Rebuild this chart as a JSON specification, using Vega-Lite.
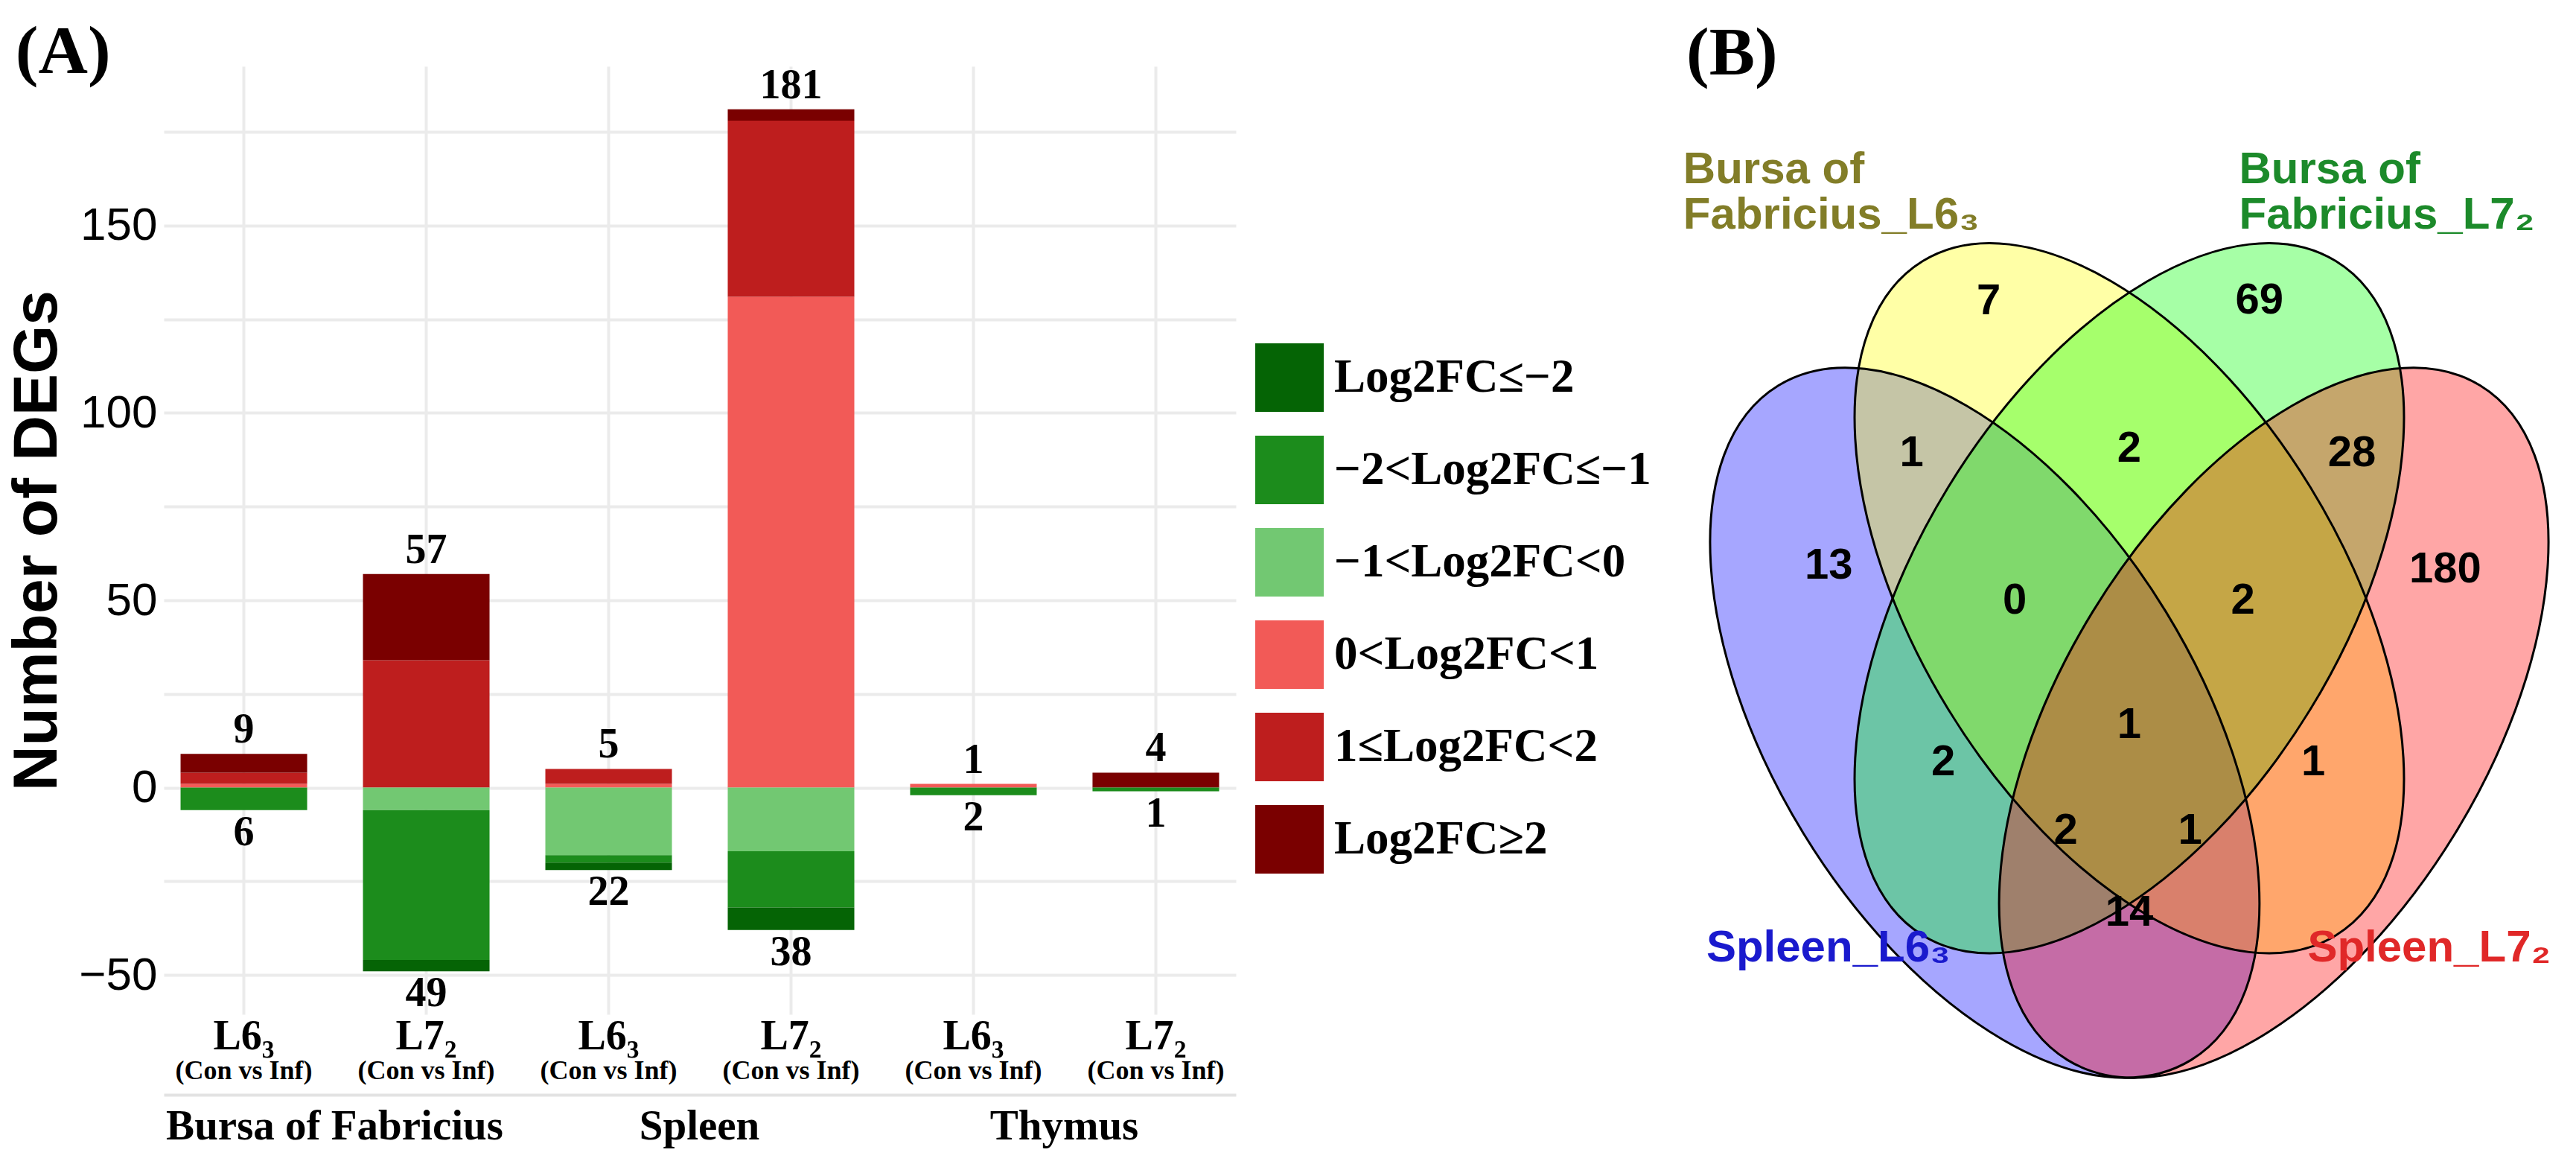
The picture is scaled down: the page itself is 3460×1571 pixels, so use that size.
{
  "$schema": "https://vega.github.io/schema/vega-lite/v6.json",
  "background": "white",
  "padding": {"left": 8, "top": 23, "right": 5, "bottom": 5},
  "spacing": 42,
  "config": {"view": {"stroke": null}, "axis": {"labelAngle": 0}},
  "resolve": {"scale": {"color": "independent", "fill": "independent"}, "legend": {"color": "independent", "fill": "independent"}},
  "datasets": {
    "bars": [
      {"tissue": "Bursa of Fabricius", "cond": "Bursa of Fabricius|L6₃", "cat": "0<Log2FC<1", "lvl": 1, "value": 1},
      {"tissue": "Bursa of Fabricius", "cond": "Bursa of Fabricius|L6₃", "cat": "1≤Log2FC<2", "lvl": 2, "value": 3},
      {"tissue": "Bursa of Fabricius", "cond": "Bursa of Fabricius|L6₃", "cat": "Log2FC≥2", "lvl": 3, "value": 5},
      {"tissue": "Bursa of Fabricius", "cond": "Bursa of Fabricius|L6₃", "cat": "−2<Log2FC≤−1", "lvl": 2, "value": -6},
      {"tissue": "Bursa of Fabricius", "cond": "Bursa of Fabricius|L7₂", "cat": "1≤Log2FC<2", "lvl": 2, "value": 34},
      {"tissue": "Bursa of Fabricius", "cond": "Bursa of Fabricius|L7₂", "cat": "Log2FC≥2", "lvl": 3, "value": 23},
      {"tissue": "Bursa of Fabricius", "cond": "Bursa of Fabricius|L7₂", "cat": "−1<Log2FC<0", "lvl": 1, "value": -6},
      {"tissue": "Bursa of Fabricius", "cond": "Bursa of Fabricius|L7₂", "cat": "−2<Log2FC≤−1", "lvl": 2, "value": -40},
      {"tissue": "Bursa of Fabricius", "cond": "Bursa of Fabricius|L7₂", "cat": "Log2FC≤−2", "lvl": 3, "value": -3},
      {"tissue": "Spleen", "cond": "Spleen|L6₃", "cat": "0<Log2FC<1", "lvl": 1, "value": 1},
      {"tissue": "Spleen", "cond": "Spleen|L6₃", "cat": "1≤Log2FC<2", "lvl": 2, "value": 4},
      {"tissue": "Spleen", "cond": "Spleen|L6₃", "cat": "−1<Log2FC<0", "lvl": 1, "value": -18},
      {"tissue": "Spleen", "cond": "Spleen|L6₃", "cat": "−2<Log2FC≤−1", "lvl": 2, "value": -2},
      {"tissue": "Spleen", "cond": "Spleen|L6₃", "cat": "Log2FC≤−2", "lvl": 3, "value": -2},
      {"tissue": "Spleen", "cond": "Spleen|L7₂", "cat": "0<Log2FC<1", "lvl": 1, "value": 131},
      {"tissue": "Spleen", "cond": "Spleen|L7₂", "cat": "1≤Log2FC<2", "lvl": 2, "value": 47},
      {"tissue": "Spleen", "cond": "Spleen|L7₂", "cat": "Log2FC≥2", "lvl": 3, "value": 3},
      {"tissue": "Spleen", "cond": "Spleen|L7₂", "cat": "−1<Log2FC<0", "lvl": 1, "value": -17},
      {"tissue": "Spleen", "cond": "Spleen|L7₂", "cat": "−2<Log2FC≤−1", "lvl": 2, "value": -15},
      {"tissue": "Spleen", "cond": "Spleen|L7₂", "cat": "Log2FC≤−2", "lvl": 3, "value": -6},
      {"tissue": "Thymus", "cond": "Thymus|L6₃", "cat": "0<Log2FC<1", "lvl": 1, "value": 1},
      {"tissue": "Thymus", "cond": "Thymus|L6₃", "cat": "−2<Log2FC≤−1", "lvl": 2, "value": -2},
      {"tissue": "Thymus", "cond": "Thymus|L7₂", "cat": "Log2FC≥2", "lvl": 3, "value": 4},
      {"tissue": "Thymus", "cond": "Thymus|L7₂", "cat": "−2<Log2FC≤−1", "lvl": 2, "value": -1}
    ],
    "totals": [
      {"cond": "Bursa of Fabricius|L6₃", "total": 9, "n": "9"},
      {"cond": "Bursa of Fabricius|L6₃", "total": -6, "n": "6"},
      {"cond": "Bursa of Fabricius|L7₂", "total": 57, "n": "57"},
      {"cond": "Bursa of Fabricius|L7₂", "total": -49, "n": "49"},
      {"cond": "Spleen|L6₃", "total": 5, "n": "5"},
      {"cond": "Spleen|L6₃", "total": -22, "n": "22"},
      {"cond": "Spleen|L7₂", "total": 181, "n": "181"},
      {"cond": "Spleen|L7₂", "total": -38, "n": "38"},
      {"cond": "Thymus|L6₃", "total": 1, "n": "1"},
      {"cond": "Thymus|L6₃", "total": -2, "n": "2"},
      {"cond": "Thymus|L7₂", "total": 4, "n": "4"},
      {"cond": "Thymus|L7₂", "total": -1, "n": "1"}
    ],
    "sets": [
      {"set": "Spleen_L6₃", "side": "left", "u": 0.35, "v": 0.47},
      {"set": "Bursa of Fabricius_L6₃", "side": "left", "u": 0.5, "v": 0.57},
      {"set": "Bursa of Fabricius_L7₂", "side": "right", "u": 0.5, "v": 0.57},
      {"set": "Spleen_L7₂", "side": "right", "u": 0.65, "v": 0.47}
    ],
    "venn_counts": [
      {"n": "7", "u": 0.354, "v": 0.808},
      {"n": "69", "u": 0.635, "v": 0.809},
      {"n": "1", "u": 0.274, "v": 0.686},
      {"n": "2", "u": 0.5, "v": 0.69},
      {"n": "28", "u": 0.731, "v": 0.686},
      {"n": "13", "u": 0.188, "v": 0.596},
      {"n": "0", "u": 0.381, "v": 0.568},
      {"n": "2", "u": 0.618, "v": 0.568},
      {"n": "180", "u": 0.828, "v": 0.593},
      {"n": "1", "u": 0.5, "v": 0.468},
      {"n": "2", "u": 0.307, "v": 0.438},
      {"n": "1", "u": 0.691, "v": 0.438},
      {"n": "2", "u": 0.434, "v": 0.383},
      {"n": "1", "u": 0.563, "v": 0.383},
      {"n": "14", "u": 0.5, "v": 0.317}
    ],
    "venn_labels": [
      {"set": "Bursa of Fabricius_L6₃", "text": "Bursa of", "u": 0.037, "v": 0.903},
      {"set": "Bursa of Fabricius_L6₃", "text": "Fabricius_L6₃", "u": 0.037, "v": 0.867},
      {"set": "Bursa of Fabricius_L7₂", "text": "Bursa of", "u": 0.614, "v": 0.903},
      {"set": "Bursa of Fabricius_L7₂", "text": "Fabricius_L7₂", "u": 0.614, "v": 0.867},
      {"set": "Spleen_L6₃", "text": "Spleen_L6₃", "u": 0.061, "v": 0.278},
      {"set": "Spleen_L7₂", "text": "Spleen_L7₂", "u": 0.685, "v": 0.278}
    ]
  },
  "hconcat": [
    {
      "width": 1440,
      "height": 1273,
      "title": {"text": "(A)", "anchor": "start", "frame": "bounds", "font": "Liberation Serif", "fontSize": 92, "fontWeight": "bold", "color": "black", "offset": -30, "dx": 12},
      "data": {"name": "bars"},
      "layer": [
        {
          "mark": {"type": "bar"},
          "encoding": {
            "x": {
              "field": "cond", "type": "nominal",
              "sort": ["Bursa of Fabricius|L6₃", "Bursa of Fabricius|L7₂", "Spleen|L6₃", "Spleen|L7₂", "Thymus|L6₃", "Thymus|L7₂"],
              "scale": {"type": "band", "paddingInner": 0.306, "paddingOuter": 0.092},
              "axis": {"title": null, "orient": "bottom", "labelExpr": "split(datum.label, '|')[1]", "labelLimit": 1000, "labelFont": "Liberation Serif", "labelFontWeight": "bold", "labelFontSize": 56, "labelColor": "black", "labelPadding": 2, "ticks": false, "domain": false, "grid": true, "gridColor": "#EBEBEB", "gridWidth": 4}
            },
            "y": {
              "field": "value", "type": "quantitative", "stack": "zero",
              "scale": {"domain": [-60.5, 192.5], "nice": false},
              "axis": {"title": "Number of DEGs", "titleFont": "Liberation Sans", "titleFontSize": 84, "titleFontWeight": "bold", "titleColor": "black", "titlePadding": 12, "values": [-50, -25, 0, 25, 50, 75, 100, 125, 150, 175], "format": "d", "labelExpr": "datum.value % 50 == 0 ? datum.label : ''", "labelOverlap": false, "labelFont": "Liberation Sans", "labelFontSize": 62, "labelColor": "black", "labelPadding": 9, "ticks": false, "domain": false, "grid": true, "gridColor": "#EBEBEB", "gridWidth": 4}
            },
            "color": {
              "field": "cat", "type": "nominal",
              "scale": {
                "domain": ["Log2FC≤−2", "−2<Log2FC≤−1", "−1<Log2FC<0", "0<Log2FC<1", "1≤Log2FC<2", "Log2FC≥2"],
                "range": ["#056405", "#1C8C1C", "#72C872", "#F25A57", "#BE1E1E", "#7A0000"]
              },
              "legend": {"orient": "none", "legendX": 1466, "legendY": 372, "title": null, "symbolType": "square", "symbolSize": 8464, "symbolStrokeWidth": 0, "symbolOpacity": 1, "labelFont": "Liberation Serif", "labelFontWeight": "bold", "labelFontSize": 63, "labelColor": "black", "labelOffset": 14, "rowPadding": 32, "labelLimit": 1000, "padding": 0}
            },
            "order": {"field": "lvl", "type": "quantitative"}
          }
        },
        {
          "data": {"name": "totals"},
          "transform": [{"filter": "datum.total > 0"}],
          "mark": {"type": "text", "baseline": "bottom", "dy": -3, "font": "Liberation Serif", "fontWeight": "bold", "fontSize": 56, "color": "black"},
          "encoding": {
            "x": {"field": "cond", "type": "nominal", "axis": null},
            "y": {"field": "total", "type": "quantitative"},
            "text": {"field": "n"}
          }
        },
        {
          "data": {"name": "totals"},
          "transform": [{"filter": "datum.total < 0"}],
          "mark": {"type": "text", "baseline": "top", "dy": 3, "font": "Liberation Serif", "fontWeight": "bold", "fontSize": 56, "color": "black"},
          "encoding": {
            "x": {"field": "cond", "type": "nominal", "axis": null},
            "y": {"field": "total", "type": "quantitative"},
            "text": {"field": "n"}
          }
        },
        {
          "mark": {"type": "point", "opacity": 0},
          "encoding": {
            "x": {
              "field": "cond", "type": "nominal",
              "axis": {"title": null, "orient": "bottom", "labelExpr": "'(Con vs Inf)'", "labelLimit": 1000, "labelFont": "Liberation Serif", "labelFontWeight": "bold", "labelFontSize": 36, "labelColor": "black", "labelPadding": 58, "ticks": false, "domain": false, "grid": false}
            },
            "y": {"datum": 0, "type": "quantitative"}
          }
        },
        {
          "mark": {"type": "point", "opacity": 0},
          "encoding": {
            "x": {
              "field": "cond", "type": "nominal",
              "axis": {"title": null, "orient": "bottom", "offset": 108, "labelExpr": "indexof(datum.label, 'L6') >= 0 ? split(datum.label, '|')[0] : ''", "labelOffset": 122, "labelOverlap": false, "labelLimit": 1000, "labelFont": "Liberation Serif", "labelFontWeight": "bold", "labelFontSize": 57, "labelColor": "black", "labelPadding": 14, "ticks": false, "domain": true, "domainColor": "#E3E3E3", "domainWidth": 4, "grid": false}
            },
            "y": {"datum": 0, "type": "quantitative"}
          }
        }
      ],
      "resolve": {"axis": {"x": "independent"}}
    },
    {
      "width": 1172,
      "height": 1273,
      "title": {"text": "(B)", "anchor": "start", "frame": "group", "font": "Liberation Serif", "fontSize": 92, "fontWeight": "bold", "color": "black", "offset": -30},
      "layer": [
        {
          "data": {"name": "sets"},
          "transform": [{"filter": "datum.side == 'left'"}],
          "mark": {"type": "point", "shape": "M 1 0 C 1 0.2968 0.5523 0.5374 0 0.5374 C -0.5523 0.5374 -1 0.2968 -1 0 C -1 -0.2968 -0.5523 -0.5374 0 -0.5374 C 0.5523 -0.5374 1 -0.2968 1 0 Z", "size": 1127419, "angle": 58.5, "filled": true, "fillOpacity": 0.35, "strokeWidth": 0},
          "encoding": {
            "x": {"field": "u", "type": "quantitative", "scale": {"domain": [0.0402, 0.9459], "nice": false, "zero": false}, "axis": null},
            "y": {"field": "v", "type": "quantitative", "scale": {"domain": [0.2358, 0.9972], "nice": false, "zero": false}, "axis": null},
            "fill": {"field": "set", "type": "nominal", "scale": {"domain": ["Spleen_L6₃", "Bursa of Fabricius_L6₃", "Bursa of Fabricius_L7₂", "Spleen_L7₂"], "range": ["#0000FF", "#FFFF00", "#00FF00", "#FF0000"]}, "legend": null}
          }
        },
        {
          "data": {"name": "sets"},
          "transform": [{"filter": "datum.side == 'right'"}],
          "mark": {"type": "point", "shape": "M 1 0 C 1 0.2968 0.5523 0.5374 0 0.5374 C -0.5523 0.5374 -1 0.2968 -1 0 C -1 -0.2968 -0.5523 -0.5374 0 -0.5374 C 0.5523 -0.5374 1 -0.2968 1 0 Z", "size": 1127419, "angle": -58.5, "filled": true, "fillOpacity": 0.35, "strokeWidth": 0},
          "encoding": {
            "x": {"field": "u", "type": "quantitative"},
            "y": {"field": "v", "type": "quantitative"},
            "fill": {"field": "set", "type": "nominal", "legend": null}
          }
        },
        {
          "data": {"name": "sets"},
          "transform": [{"filter": "datum.side == 'left'"}],
          "mark": {"type": "point", "shape": "M 1 0 C 1 0.2968 0.5523 0.5374 0 0.5374 C -0.5523 0.5374 -1 0.2968 -1 0 C -1 -0.2968 -0.5523 -0.5374 0 -0.5374 C 0.5523 -0.5374 1 -0.2968 1 0 Z", "size": 1127419, "angle": 58.5, "filled": false, "color": "black", "strokeWidth": 3, "opacity": 1},
          "encoding": {
            "x": {"field": "u", "type": "quantitative"},
            "y": {"field": "v", "type": "quantitative"}
          }
        },
        {
          "data": {"name": "sets"},
          "transform": [{"filter": "datum.side == 'right'"}],
          "mark": {"type": "point", "shape": "M 1 0 C 1 0.2968 0.5523 0.5374 0 0.5374 C -0.5523 0.5374 -1 0.2968 -1 0 C -1 -0.2968 -0.5523 -0.5374 0 -0.5374 C 0.5523 -0.5374 1 -0.2968 1 0 Z", "size": 1127419, "angle": -58.5, "filled": false, "color": "black", "strokeWidth": 3, "opacity": 1},
          "encoding": {
            "x": {"field": "u", "type": "quantitative"},
            "y": {"field": "v", "type": "quantitative"}
          }
        },
        {
          "data": {"name": "venn_counts"},
          "mark": {"type": "text", "font": "Liberation Sans", "fontWeight": "bold", "fontSize": 58, "color": "black", "baseline": "middle"},
          "encoding": {
            "x": {"field": "u", "type": "quantitative"},
            "y": {"field": "v", "type": "quantitative"},
            "text": {"field": "n"}
          }
        },
        {
          "data": {"name": "venn_labels"},
          "mark": {"type": "text", "font": "Liberation Sans", "fontWeight": "bold", "fontSize": 60, "align": "left", "baseline": "alphabetic"},
          "encoding": {
            "x": {"field": "u", "type": "quantitative"},
            "y": {"field": "v", "type": "quantitative"},
            "text": {"field": "text"},
            "color": {"field": "set", "type": "nominal", "scale": {"domain": ["Spleen_L6₃", "Bursa of Fabricius_L6₃", "Bursa of Fabricius_L7₂", "Spleen_L7₂"], "range": ["#1A1ACD", "#827D28", "#1C8A2A", "#E02828"]}, "legend": null}
          }
        }
      ]
    }
  ]
}
